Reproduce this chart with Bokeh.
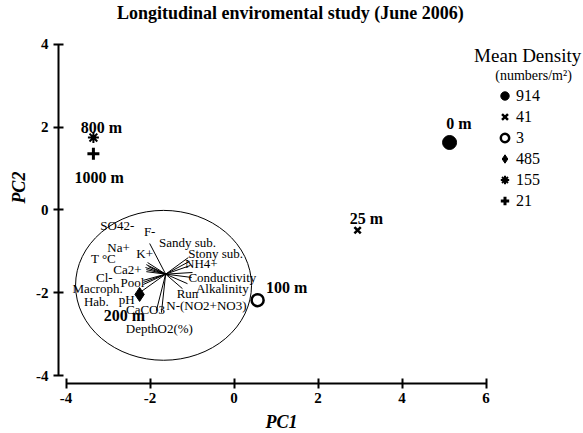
import math
from bokeh.plotting import figure
from bokeh.models import (Range1d, Label, LabelSet, Legend, LegendItem,
                          FixedTicker, ColumnDataSource)
from bokeh.embed import file_html
from bokeh.resources import INLINE
from bokeh.core.properties import value

SERIF = "Liberation Serif"

# ---- sites (scores) ----
sites = ["0 m", "25 m", "100 m", "200 m", "800 m", "1000 m"]
pc1 = [5.13, 2.94, 0.56, -2.25, -3.35, -3.35]
pc2 = [1.63, -0.49, -2.18, -2.04, 1.75, 1.36]
density = ["914", "41", "3", "485", "155", "21"]
site_label_x = [5.35, 3.15, 1.25, -2.61, -3.16, -3.21]
site_label_y = [2.09, -0.20, -1.87, -2.55, 1.99, 0.79]

# ---- environmental variables (loadings) ----
origin_x = -1.63
origin_y = -1.55
var_names = ["SO42-", "F-", "Na+", "K+", "T \u00b0C", "Ca2+", "Cl-", "Pool",
             "Macroph.", "Hab.", "pH", "CaCO3", "DepthO2(%)", "Sandy sub.",
             "Stony sub.", "NH4+", "Conductivity", "Alkalinity", "Run",
             "N-(NO2+NO3)"]
load_x = [-2.06, -2.01, -2.09, -2.04, -2.11, -2.09, -2.09, -2.16,
          -2.16, -2.16, -2.28, -1.85, -1.73, -1.09,
          -1.06, -1.04, -0.99, -1.01, -1.11, -1.23]
load_y = [-1.27, -0.81, -1.32, -1.37, -1.39, -1.44, -1.49, -1.70,
          -1.75, -1.80, -2.02, -2.43, -2.48, -1.15,
          -1.24, -1.34, -1.51, -1.63, -1.78, -1.90]
var_label_x = [-2.78, -2.01, -2.75, -2.13, -3.11, -2.54, -3.09, -2.42,
               -3.25, -3.28, -2.56, -2.11, -1.78, -1.11,
               -0.44, -0.78, -0.28, -0.28, -1.11, -0.66]
var_label_y = [-0.37, -0.52, -0.91, -1.05, -1.17, -1.44, -1.63, -1.75,
               -1.90, -2.21, -2.16, -2.40, -2.86, -0.79,
               -1.05, -1.29, -1.63, -1.90, -2.02, -2.31]

# correlation circle
circle_x = -1.68
circle_y = -1.82
circle_w = 4.19
circle_h = 3.62

x_ticks = [-4, -2, 0, 2, 4, 6]
x_tick_labels = ["-4", "-2", "0", "2", "4", "6"]
y_ticks = [-4, -2, 0, 2, 4]
y_tick_labels = ["-4", "-2", "0", "2", "4"]

p = figure(frame_width=583, frame_height=432,
           x_range=Range1d(-5.562, 8.319), y_range=Range1d(-5.375, 5.060),
           output_backend="svg", toolbar_location=None,
           min_border_left=0, min_border_bottom=0,
           min_border_top=0, min_border_right=0)
p.grid.visible = False
p.outline_line_color = None
p.background_fill_color = "white"
p.border_fill_color = "white"

p.xaxis.ticker = FixedTicker(ticks=x_ticks)
p.xaxis.major_label_overrides = dict(zip(x_ticks, x_tick_labels))
p.xaxis.bounds = (-4, 6)
p.xaxis.fixed_location = -4.191
p.yaxis.ticker = FixedTicker(ticks=y_ticks)
p.yaxis.major_label_overrides = dict(zip(y_ticks, y_tick_labels))
p.yaxis.bounds = (-4, 4)
p.yaxis.fixed_location = -4.181
for ax in (p.xaxis[0], p.yaxis[0]):
    ax.axis_line_width = 2
    ax.axis_line_color = "black"
    ax.major_tick_line_width = 2
    ax.major_tick_line_color = "black"
    ax.major_tick_in = 5
    ax.major_tick_out = 5
    ax.minor_tick_line_color = None
    ax.major_label_text_font = SERIF
    ax.major_label_text_font_style = "bold"
    ax.major_label_text_font_size = "15px"
    ax.major_label_text_color = "black"
    ax.major_label_standoff = 5

# correlation circle and vectors
p.ellipse(x=[circle_x], y=[circle_y], width=[circle_w], height=[circle_h],
          fill_color=None, line_color="black", line_width=1)
vsrc = ColumnDataSource(dict(x1=load_x, y1=load_y, name=var_names,
                             lx=var_label_x, ly=var_label_y))
p.segment(x0=origin_x, y0=origin_y, x1="x1", y1="y1", source=vsrc,
          line_color="black", line_width=1)
p.add_layout(LabelSet(x="lx", y="ly", text="name", source=vsrc,
                      text_align="center", text_baseline="middle",
                      text_font=value(SERIF), text_font_size="13px",
                      text_color="black"))

# sites
styles = [
    dict(marker="circle", size=14, fill_color="black", line_color="black", line_width=1),
    dict(marker="x", size=9, line_color="black", line_width=2.5),
    dict(marker="circle", size=12, fill_color=None, line_color="black", line_width=2.5),
    dict(marker="diamond", size=14, fill_color="black", line_color="black", line_width=1),
    dict(marker="asterisk", size=11, line_color="black", line_width=2),
    dict(marker="cross", size=12, line_color="black", line_width=3),
]
renderers = []
for i, st in enumerate(styles):
    r = p.scatter(x=[pc1[i]], y=[pc2[i]], **st)
    renderers.append(r)

ssrc = ColumnDataSource(dict(x=site_label_x, y=site_label_y, t=sites))
p.add_layout(LabelSet(x="x", y="y", text="t", source=ssrc,
                      text_align="center", text_baseline="middle",
                      text_font=value(SERIF), text_font_style="bold",
                      text_font_size="16px", text_color="black"))

legend = Legend(items=[LegendItem(label=d, renderers=[r]) for d, r in zip(density, renderers)],
                location=(494, 221), glyph_width=21, glyph_height=21,
                label_height=21, label_standoff=1, spacing=0, padding=0, margin=0,
                border_line_color=None, background_fill_alpha=0,
                label_text_font=SERIF, label_text_font_size="16px",
                label_text_color="black")
p.add_layout(legend)

p.add_layout(Label(x=6.99, y=3.73, text="Mean Density", text_align="center",
                   text_baseline="middle", text_font=SERIF, text_font_size="19px",
                   text_color="black"))
p.add_layout(Label(x=7.13, y=3.25, text="(numbers/m\u00b2)", text_align="center",
                   text_baseline="middle", text_font=SERIF, text_font_size="14px",
                   text_color="black"))

# title and axis titles
p.add_layout(Label(x=1.34, y=4.75, text="Longitudinal enviromental study (June 2006)",
                   text_align="center", text_baseline="middle", text_font=SERIF,
                   text_font_style="bold", text_font_size="18px", text_color="black"))
p.add_layout(Label(x=1.13, y=-5.11, text="PC1", text_align="center",
                   text_baseline="middle", text_font=SERIF,
                   text_font_style="bold italic", text_font_size="18px",
                   text_color="black"))
p.add_layout(Label(x=-5.11, y=0.54, text="PC2", text_align="center",
                   text_baseline="middle", text_font=SERIF, angle=math.pi / 2,
                   text_font_style="bold italic", text_font_size="18px",
                   text_color="black"))

open("out.html", "w").write(file_html(p, INLINE))
